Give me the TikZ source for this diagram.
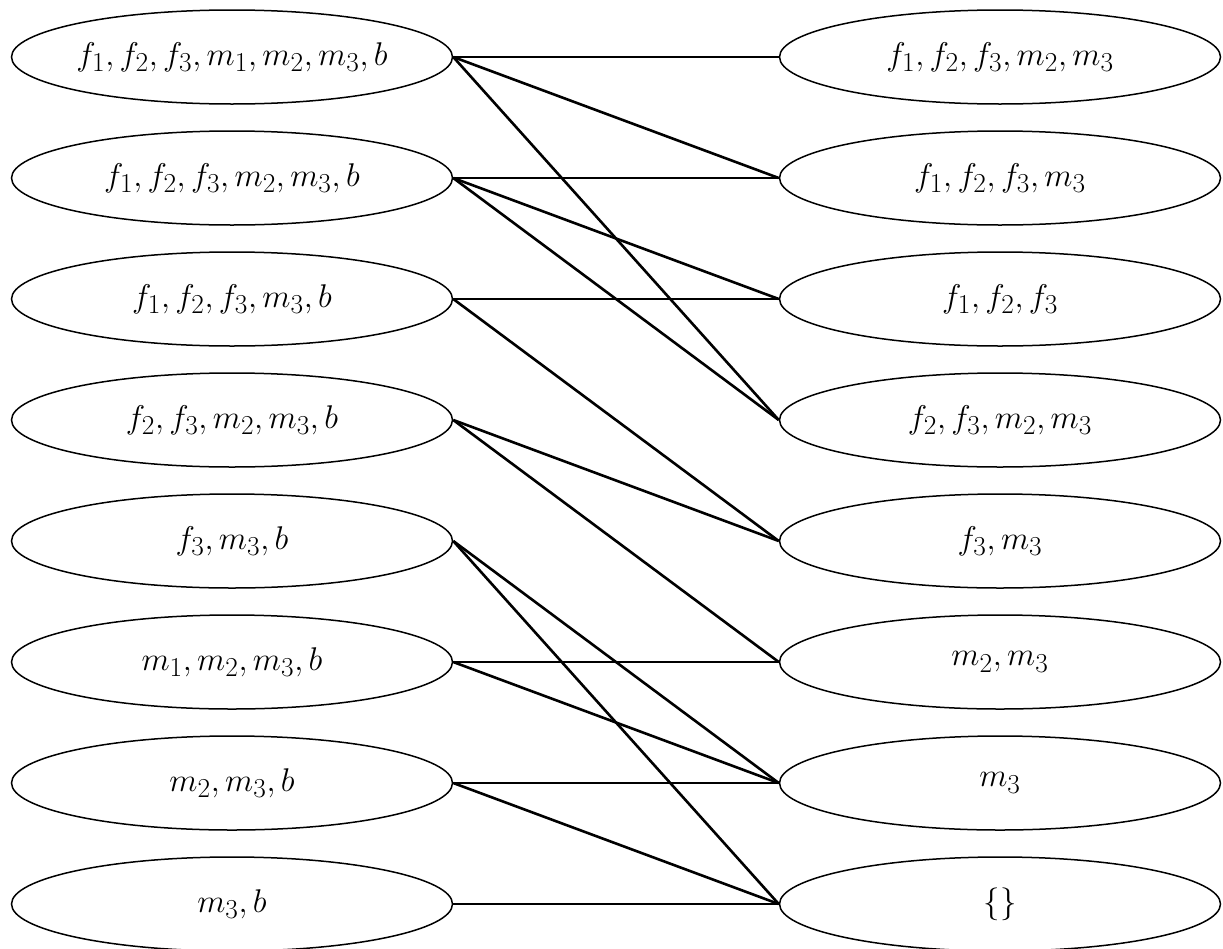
\documentclass[tikz,border=0pt]{standalone}
\usepackage{graphicx}
\usetikzlibrary{shapes.geometric}
\newcommand{\setlbl}[1]{\scalebox{1.32}{\Huge$#1$}}
\begin{document}
\begin{tikzpicture}[x=1pt,y=-1pt,
  setnode/.style={draw=black, line width=1.5pt, ellipse, minimum width=441pt, minimum height=94pt, inner sep=0pt},
  link/.style={draw=black, line width=2.6pt}]
\useasboundingbox (0,0) rectangle (1223,948);
\foreach \i/\y in {1/57,2/178,3/299,4/420,5/541,6/662,7/783,8/904}{
  \coordinate (pl\i) at (232,\y);
  \coordinate (pr\i) at (1000,\y);
}
\node[setnode] (l1) at (pl1) {\setlbl{f_1,f_2,f_3,m_1,m_2,m_3,b}};
\node[setnode] (l2) at (pl2) {\setlbl{f_1,f_2,f_3,m_2,m_3,b}};
\node[setnode] (l3) at (pl3) {\setlbl{f_1,f_2,f_3,m_3,b}};
\node[setnode] (l4) at (pl4) {\setlbl{f_2,f_3,m_2,m_3,b}};
\node[setnode] (l5) at (pl5) {\setlbl{f_3,m_3,b}};
\node[setnode] (l6) at (pl6) {\setlbl{m_1,m_2,m_3,b}};
\node[setnode] (l7) at (pl7) {\setlbl{m_2,m_3,b}};
\node[setnode] (l8) at (pl8) {\setlbl{m_3,b}};
\node[setnode] (r1) at (pr1) {\setlbl{f_1,f_2,f_3,m_2,m_3}};
\node[setnode] (r2) at (pr2) {\setlbl{f_1,f_2,f_3,m_3}};
\node[setnode] (r3) at (pr3) {\setlbl{f_1,f_2,f_3}};
\node[setnode] (r4) at (pr4) {\setlbl{f_2,f_3,m_2,m_3}};
\node[setnode] (r5) at (pr5) {\setlbl{f_3,m_3}};
\node[setnode] (r6) at (pr6) {\setlbl{m_2,m_3}};
\node[setnode] (r7) at (pr7) {\setlbl{m_3}};
\node[setnode] (r8) at (pr8) {\setlbl{\{\}}};
\foreach \a/\b in {1/1,1/2,1/4,2/2,2/3,2/4,3/3,3/5,4/5,4/6,5/7,5/8,6/6,6/7,7/7,7/8,8/8}{
  \draw[link] (l\a.east) -- (r\b.west);
}
\end{tikzpicture}
\end{document}
